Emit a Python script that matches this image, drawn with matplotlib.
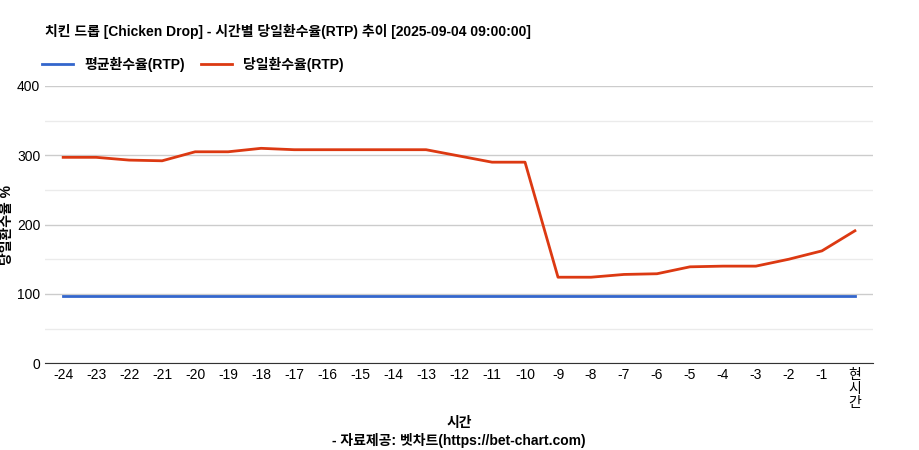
import matplotlib
matplotlib.use("Agg")
import matplotlib.pyplot as plt
plt.rcParams['font.family'] = ['Liberation Sans', 'Noto Sans CJK KR', 'DejaVu Sans']

labels = [str(i) for i in range(-24, 0)] + ['현\n시\n간']
avg_rtp = [97] * 25
day_rtp = [297, 297, 293, 292, 305, 305, 310, 308, 308, 308, 308, 308, 299, 290, 290,
           124, 124, 128, 129, 139, 140, 140, 150, 162, 191]

fig = plt.figure(figsize=(9.19, 4.5), dpi=100)
ax = fig.add_axes([0.049, 0.193, 0.901, 0.616])
x = list(range(len(labels)))
ax.plot(x, avg_rtp, color='#3366cc', lw=2, label='평균환수율(RTP)')
ax.plot(x, day_rtp, color='#dc3912', lw=2, label='당일환수율(RTP)')
ax.set_xlim(-0.55, 24.55)
ax.set_ylim(0, 400)
ax.set_yticks([0, 100, 200, 300, 400])
ax.set_yticks([50, 150, 250, 350], minor=True)
ax.set_yticklabels([], minor=True)
ax.tick_params(axis='y', which='minor', length=0)
ax.grid(axis='y', which='major', color='#cccccc', lw=1)
ax.grid(axis='y', which='minor', color='#ebebeb', lw=1)
ax.set_axisbelow(True)
ax.set_xticks(x)
ax.set_xticklabels(labels, fontsize=10, linespacing=1.0)
ax.tick_params(axis='y', labelsize=10, length=0)
ax.tick_params(axis='x', length=0)
for s in ['top', 'right', 'left']:
    ax.spines[s].set_visible(False)
ax.spines['bottom'].set_color('#333333')
ax.set_ylabel('당일환수율 %', fontsize=10, fontweight='bold', labelpad=2)
ax.set_xlabel('시간\n- 자료제공: 벳차트(https://bet-chart.com)', fontsize=10, fontweight='bold', labelpad=4, linespacing=1.3)
fig.text(0.049, 0.93, '치킨 드롭 [Chicken Drop] - 시간별 당일환수율(RTP) 추이 [2025-09-04 09:00:00]',
         fontsize=10, fontweight='bold', va='center')
ax.legend(loc='lower left', bbox_to_anchor=(-0.01, 1.03), ncol=2, frameon=False,
          handlelength=2.2, columnspacing=1.2, borderaxespad=0, prop={'weight': 'bold', 'size': 10})
fig.savefig('out.png', dpi=100)
